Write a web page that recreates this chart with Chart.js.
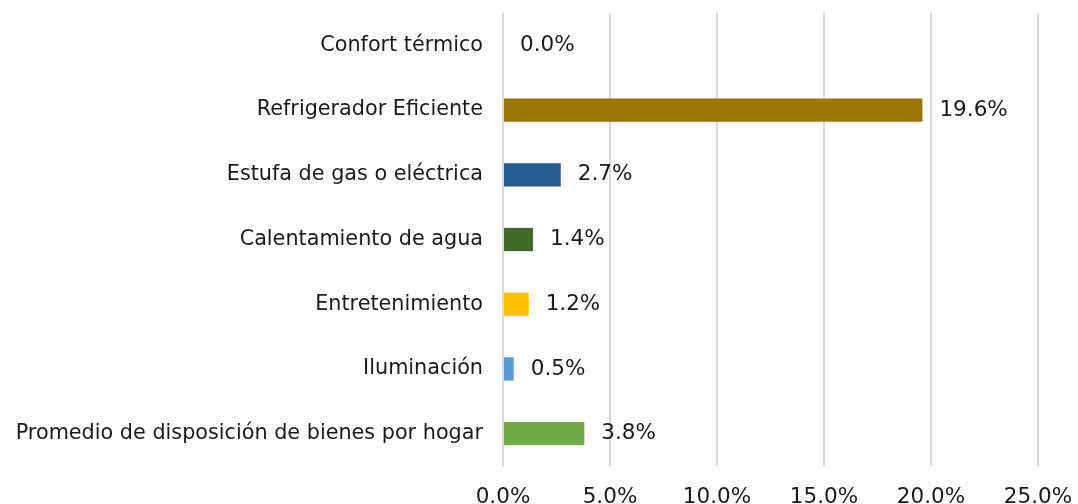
<!DOCTYPE html>
<html>
<head>
<meta charset="utf-8">
<script src="https://cdn.jsdelivr.net/npm/chart.js@4"></script>
<style>
  html, body { margin: 0; padding: 0; background: #fff; }
  #wrap { width: 1078px; height: 504px; }
</style>
</head>
<body>
<div id="wrap"><canvas id="c" width="1078" height="504"></canvas></div>
<script>
  const categories = [
    'Confort térmico',
    'Refrigerador Eficiente',
    'Estufa de gas o eléctrica',
    'Calentamiento de agua',
    'Entretenimiento',
    'Iluminación',
    'Promedio de disposición de bienes por hogar',
  ];
  const shares = [0.0, 19.6, 2.7, 1.4, 1.2, 0.5, 3.8];
  const barColors = ['#A5A5A5', '#9C7700', '#255E91', '#43682B', '#FFC000', '#5B9BD5', '#70AD47'];
  const xTicks = [0, 5, 10, 15, 20, 25];

  const FONT = "'DejaVu Sans', 'Noto Sans', sans-serif";
  const INK = '#1a1a1a';
  const GRID = '#D9D9D9';

  // value labels drawn at the end of each bar
  const valueLabels = {
    id: 'valueLabels',
    afterDatasetsDraw(chart) {
      const ctx = chart.ctx;
      const meta = chart.getDatasetMeta(0);
      ctx.save();
      ctx.font = '21.5px ' + FONT;
      ctx.fillStyle = INK;
      ctx.textAlign = 'left';
      ctx.textBaseline = 'middle';
      meta.data.forEach((bar, i) => {
        ctx.fillText(shares[i].toFixed(1) + '%', bar.x + 17, bar.y);
      });
      ctx.restore();
    },
  };

  new Chart(document.getElementById('c'), {
    type: 'bar',
    data: {
      labels: categories,
      datasets: [{
        data: shares,
        backgroundColor: barColors,
        borderWidth: 0,
        barPercentage: 0.36,
        categoryPercentage: 1,
      }],
    },
    options: {
      indexAxis: 'y',
      responsive: false,
      animation: false,
      layout: { padding: { top: 13, right: 40, left: 0, bottom: 0 } },
      plugins: { legend: { display: false }, tooltip: { enabled: false } },
      scales: {
        x: {
          min: 0,
          max: 25,
          afterBuildTicks: (s) => { s.ticks = xTicks.map((v) => ({ value: v })); },
          afterFit: (s) => { s.height = 38; s.paddingLeft = 0; s.paddingRight = 0; },
          grid: { color: GRID, lineWidth: 2, drawTicks: false },
          border: { display: false },
          ticks: {
            padding: 19,
            color: INK,
            font: { family: FONT, size: 21.5 },
            callback: (v) => Number(v).toFixed(1) + '%',
          },
        },
        y: {
          afterFit: (s) => { s.width = 503; s.paddingTop = 0; s.paddingBottom = 0; },
          grid: { display: false, drawTicks: false },
          border: { display: false },
          ticks: {
            padding: 20,
            color: INK,
            font: { family: FONT, size: 20.75 },
          },
        },
      },
    },
    plugins: [valueLabels],
  });
</script>
</body>
</html>
